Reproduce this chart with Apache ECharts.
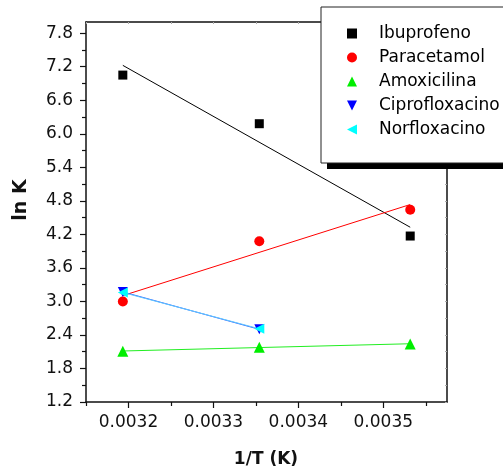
<!DOCTYPE html>
<html>
<head>
<meta charset="utf-8">
<script src="https://cdn.jsdelivr.net/npm/echarts@6/dist/echarts.min.js"></script>
<style>
  html, body { margin: 0; padding: 0; background: #fff; }
  #chart { width: 503px; height: 470px; }
</style>
</head>
<body>
<div id="chart"></div>
<script>
// Reciprocal temperatures (1/K) for 40, 25 and 10 °C
const invT = [1 / 313.15, 1 / 298.15, 1 / 283.15];

// ln K per compound at each temperature
const ibuprofeno = [7.05, 6.18, 4.17];
const paracetamol = [3.00, 4.075, 4.64];
const amoxicilina = [2.11, 2.18, 2.24];
const ciprofloxacino = [3.17, 2.50];
const norfloxacino = [3.16, 2.51];

const seriesNames = ['Ibuprofeno', 'Paracetamol', 'Amoxicilina', 'Ciprofloxacino', 'Norfloxacino'];

// Axis ticks
const xMajorTicks = [0.0032, 0.0033, 0.0034, 0.0035];
const xMinorTicks = [0.00315, 0.00325, 0.00335, 0.00345, 0.00355];
const yMajorTicks = [1.2, 1.8, 2.4, 3.0, 3.6, 4.2, 4.8, 5.4, 6.0, 6.6, 7.2, 7.8];
const yMinorTicks = [1.5, 2.1, 2.7, 3.3, 3.9, 4.5, 5.1, 5.7, 6.3, 6.9, 7.5];

const X_MIN = 0.00315, X_MAX = 0.003575;
const Y_MIN = 1.2, Y_MAX = 8.0;
const FONT = 'DejaVu Sans';
const INK = '#111';

// Least-squares straight line through the points, from the first to the last x
function linearFit(xs, ys) {
  const n = ys.length;
  const x = xs.slice(0, n);
  const mx = x.reduce((s, v) => s + v, 0) / n;
  const my = ys.reduce((s, v) => s + v, 0) / n;
  let sxy = 0, sxx = 0;
  for (let i = 0; i < n; i++) {
    sxy += (x[i] - mx) * (ys[i] - my);
    sxx += (x[i] - mx) * (x[i] - mx);
  }
  const b = sxy / sxx, a = my - b * mx;
  return [[x[0], a + b * x[0]], [x[n - 1], a + b * x[n - 1]]];
}

function points(ys) {
  return ys.map((y, i) => [invT[i], y]);
}

// Marker shapes; the legend uses path versions of the rotated triangles
const TRI_DOWN = 'path://M0,0L10,0L5,10Z';
const TRI_LEFT = 'path://M10,0L10,10L0,5Z';

const compounds = [
  { name: seriesNames[0], values: ibuprofeno, color: '#000000', line: '#000000', symbol: 'rect', icon: 'rect', size: 9, rotate: 0 },
  { name: seriesNames[1], values: paracetamol, color: '#ff0000', line: '#ff0000', symbol: 'circle', icon: 'circle', size: 10, rotate: 0 },
  { name: seriesNames[2], values: amoxicilina, color: '#00ee00', line: '#22ee22', symbol: 'triangle', icon: 'triangle', size: 11, rotate: 0 },
  { name: seriesNames[3], values: ciprofloxacino, color: '#0000ff', line: '#3060ff', symbol: 'triangle', icon: TRI_DOWN, size: 10, rotate: 180 },
  { name: seriesNames[4], values: norfloxacino, color: '#00ffff', line: '#60c8ff', symbol: 'triangle', icon: TRI_LEFT, size: 10, rotate: 90 }
];

const series = [];
compounds.forEach(c => {
  series.push({
    name: c.name + ' (ajuste)',
    type: 'line',
    data: linearFit(invT, c.values),
    showSymbol: false,
    symbol: 'none',
    silent: true,
    z: 3,
    lineStyle: { color: c.line, width: 1 }
  });
});
compounds.forEach(c => {
  series.push({
    name: c.name,
    type: 'scatter',
    data: points(c.values),
    symbol: c.symbol,
    symbolSize: c.size,
    symbolRotate: c.rotate,
    z: 4,
    itemStyle: { color: c.color, opacity: 1 }
  });
});

const labelStyle = { fontFamily: FONT, fontSize: 17, color: INK };

const yAllTicks = yMajorTicks.concat(yMinorTicks).sort((a, b) => a - b);
const xAllTicks = xMajorTicks.concat(xMinorTicks).sort((a, b) => a - b);

const legendData = compounds.map(c => ({
  name: c.name,
  icon: c.icon,
  itemStyle: { color: c.color }
}));

// Legend box geometry (the drop shadow sits behind it)
const LEG_LEFT = 321, LEG_TOP = 7, LEG_H = 156, SHADOW = 6;

const option = {
  backgroundColor: '#ffffff',
  animation: false,
  grid: { left: 86, top: 22, right: 56, bottom: 68, containLabel: false },
  xAxis: [
    {
      type: 'value', position: 'bottom', min: X_MIN, max: X_MAX,
      axisLine: { show: true, onZero: false, lineStyle: { color: INK, width: 1.5 } },
      axisTick: { show: true, customValues: xMajorTicks, length: 6, lineStyle: { color: INK, width: 1.2 } },
      axisLabel: Object.assign({ customValues: xMajorTicks, margin: 12, formatter: v => v.toFixed(4) }, labelStyle),
      splitLine: { show: false }
    },
    {
      type: 'value', position: 'bottom', min: X_MIN, max: X_MAX,
      axisLine: { show: false, onZero: false },
      axisTick: { show: true, customValues: xMinorTicks, length: 4, lineStyle: { color: INK, width: 1.2 } },
      axisLabel: { show: false },
      splitLine: { show: false }
    },
    {
      type: 'value', position: 'top', min: X_MIN, max: X_MAX,
      axisLine: { show: true, onZero: false, lineStyle: { color: INK, width: 1.5 } },
      axisTick: { show: true, inside: true, customValues: xAllTicks, length: 2, lineStyle: { color: '#aaa', width: 1 } },
      axisLabel: { show: false },
      splitLine: { show: false }
    }
  ],
  yAxis: [
    {
      type: 'value', position: 'left', min: Y_MIN, max: Y_MAX,
      axisLine: { show: true, onZero: false, lineStyle: { color: INK, width: 1.5 } },
      axisTick: { show: true, customValues: yMajorTicks, length: 6, lineStyle: { color: INK, width: 1.2 } },
      axisLabel: Object.assign({ customValues: yMajorTicks, margin: 13, formatter: v => v.toFixed(1) }, labelStyle),
      splitLine: { show: false }
    },
    {
      type: 'value', position: 'left', min: Y_MIN, max: Y_MAX,
      axisLine: { show: false, onZero: false },
      axisTick: { show: true, customValues: yMinorTicks, length: 4, lineStyle: { color: INK, width: 1.2 } },
      axisLabel: { show: false },
      splitLine: { show: false }
    },
    {
      type: 'value', position: 'right', min: Y_MIN, max: Y_MAX,
      axisLine: { show: true, onZero: false, lineStyle: { color: INK, width: 1.5 } },
      axisTick: { show: true, inside: true, customValues: yAllTicks, length: 2, lineStyle: { color: '#aaa', width: 1 } },
      axisLabel: { show: false },
      splitLine: { show: false }
    }
  ],
  legend: {
    data: legendData,
    orient: 'vertical',
    left: LEG_LEFT,
    top: LEG_TOP,
    padding: [18, 80, 25, 26],
    itemWidth: 10,
    itemHeight: 10,
    itemGap: 7,
    symbolKeepAspect: true,
    selectedMode: false,
    backgroundColor: '#ffffff',
    borderColor: '#222222',
    borderWidth: 1,
    borderRadius: 0,
    z: 10,
    textStyle: { fontFamily: FONT, fontSize: 17, color: '#000', padding: [0, 0, 0, 17] }
  },
  graphic: [
    {
      type: 'rect', z: 9, silent: true,
      shape: { x: LEG_LEFT + SHADOW, y: LEG_TOP + SHADOW, width: 300, height: LEG_H },
      style: { fill: '#000000' }
    },
    {
      type: 'text', x: 21, y: 200, rotation: Math.PI / 2,
      style: { text: 'ln K', font: 'bold 19px "DejaVu Sans"', fill: INK, align: 'center', verticalAlign: 'middle' }
    },
    {
      type: 'text', x: 266, y: 460,
      style: { text: '1/T (K)', font: 'bold 17px "DejaVu Sans"', fill: INK, align: 'center', verticalAlign: 'middle' }
    }
  ],
  series: series
};

const chart = echarts.init(document.getElementById('chart'), null, { renderer: 'canvas' });
chart.setOption(option);
</script>
</body>
</html>
